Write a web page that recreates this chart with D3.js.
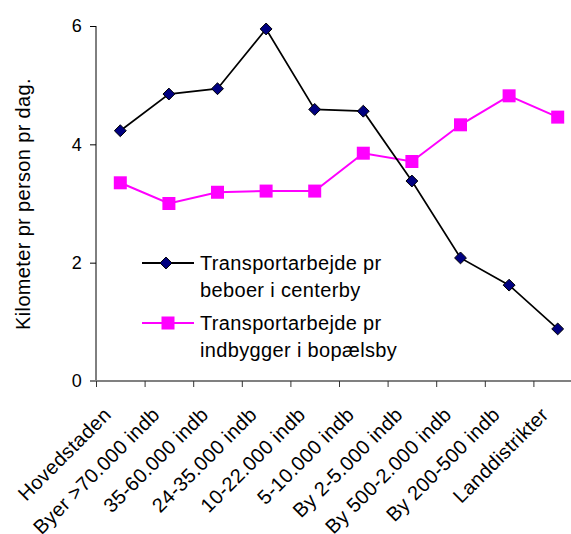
<!DOCTYPE html>
<html>
<head>
<meta charset="utf-8">
<script src="https://cdn.jsdelivr.net/npm/d3@7"></script>
<style>
  body { margin: 0; background: #fff; overflow: hidden; }
  text { font-family: "Liberation Sans", Arial, sans-serif; fill: #000; letter-spacing: 0.35px; }
</style>
</head>
<body>
<div id="chart"></div>
<script>
const categories = ["Hovedstaden", "Byer >70.000 indb", "35-60.000 indb", "24-35.000 indb", "10-22.000 indb",
  "5-10.000 indb", "By 2-5.000 indb", "By 500-2.000 indb", "By 200-500 indb", "Landdistrikter"];
const beboerCenterby = [4.23, 4.85, 4.94, 5.95, 4.59, 4.56, 3.38, 2.08, 1.62, 0.88];
const indbyggerBopael = [3.35, 3.0, 3.19, 3.21, 3.21, 3.85, 3.71, 4.33, 4.82, 4.46];
const yTicks = [0, 2, 4, 6];
const seriesNames = [
  ["Transportarbejde pr", "beboer i centerby"],
  ["Transportarbejde pr", "indbygger i bopælsby"]
];

const W = 571, H = 534;
const margin = { top: 26, left: 96 };
const plotW = 486, plotH = 355;

const svg = d3.select("#chart").append("svg")
  .attr("width", W).attr("height", H);

const g = svg.append("g").attr("transform", `translate(${margin.left},${margin.top})`);

const x = d3.scaleBand().domain(categories).range([0, plotW]);
const y = d3.scaleLinear().domain([0, 6]).range([plotH, 0]);

// y axis
g.append("line").attr("x1", 0).attr("x2", 0).attr("y1", 0).attr("y2", plotH)
  .attr("stroke", "#000").attr("stroke-width", 1);
g.selectAll(".ytick").data(yTicks).enter().append("line")
  .attr("x1", -6).attr("x2", 0)
  .attr("y1", d => y(d) + 0.5).attr("y2", d => y(d) + 0.5)
  .attr("stroke", "#000");
g.selectAll(".ylab").data(yTicks).enter().append("text")
  .attr("x", -14).attr("y", d => y(d))
  .attr("dy", "0.36em")
  .attr("text-anchor", "end")
  .style("font-size", "18px")
  .text(d => d);

// x axis
g.append("line").attr("x1", -6).attr("x2", plotW).attr("y1", plotH).attr("y2", plotH)
  .attr("stroke", "#808080").attr("stroke-width", 2);
g.selectAll(".xtick").data(categories).enter().append("line")
  .attr("x1", d => x(d) + 0.5).attr("x2", d => x(d) + 0.5)
  .attr("y1", plotH).attr("y2", plotH + 6)
  .attr("stroke", "#333");
g.selectAll(".xlab").data(categories).enter().append("text")
  .attr("text-anchor", "end")
  .style("font-size", "20px")
  .attr("transform", d => `translate(${x(d) + x.bandwidth() / 2 - 8},${plotH + 35}) rotate(-45)`)
  .text(d => d);

// y axis title
svg.append("text")
  .attr("transform", `translate(30,${margin.top + 178}) rotate(-90)`)
  .attr("text-anchor", "middle")
  .style("font-size", "20px")
  .text("Kilometer pr person pr dag.");

const cx = d => x(d) + x.bandwidth() / 2;
const diamond = d3.symbol().type(d3.symbolDiamond2).size(90);

function drawSeries(values, color, kind) {
  const pts = categories.map((c, i) => ({ c, v: values[i] }));
  g.append("path").datum(pts)
    .attr("fill", "none").attr("stroke", color).attr("stroke-width", kind === "sq" ? 2 : 1.7)
    .attr("d", d3.line().x(d => cx(d.c)).y(d => y(d.v)));
  if (kind === "sq") {
    g.selectAll(".sq").data(pts).enter().append("rect")
      .attr("x", d => cx(d.c) - 6.5).attr("y", d => y(d.v) - 6.5)
      .attr("width", 13).attr("height", 13)
      .attr("fill", "#ff00ff");
  } else {
    g.selectAll(".dm").data(pts).enter().append("path")
      .attr("transform", d => `translate(${cx(d.c)},${y(d.v)})`)
      .attr("d", diamond)
      .attr("fill", "#000080").attr("stroke", "#000").attr("stroke-width", 1);
  }
}
drawSeries(indbyggerBopael, "#ff00ff", "sq");
drawSeries(beboerCenterby, "#000", "dm");

// legend
const legend = svg.append("g").attr("transform", "translate(142,263)");
[["#000", "dm"], ["#ff00ff", "sq"]].forEach(([color, kind], i) => {
  const row = legend.append("g").attr("transform", `translate(0,${i * 60})`);
  row.append("line").attr("x1", 0).attr("x2", 52).attr("y1", 0).attr("y2", 0)
    .attr("stroke", color).attr("stroke-width", 2);
  if (kind === "sq") {
    row.append("rect").attr("x", 19.5).attr("y", -6.5).attr("width", 13).attr("height", 13).attr("fill", color);
  } else {
    row.append("path").attr("transform", "translate(24,0)").attr("d", diamond)
      .attr("fill", "#000080").attr("stroke", "#000");
  }
  seriesNames[i].forEach((line, j) => {
    row.append("text").attr("x", 58).attr("y", j * 27).attr("dy", "0.36em")
      .style("font-size", "20px").text(line);
  });
});
</script>
</body>
</html>
